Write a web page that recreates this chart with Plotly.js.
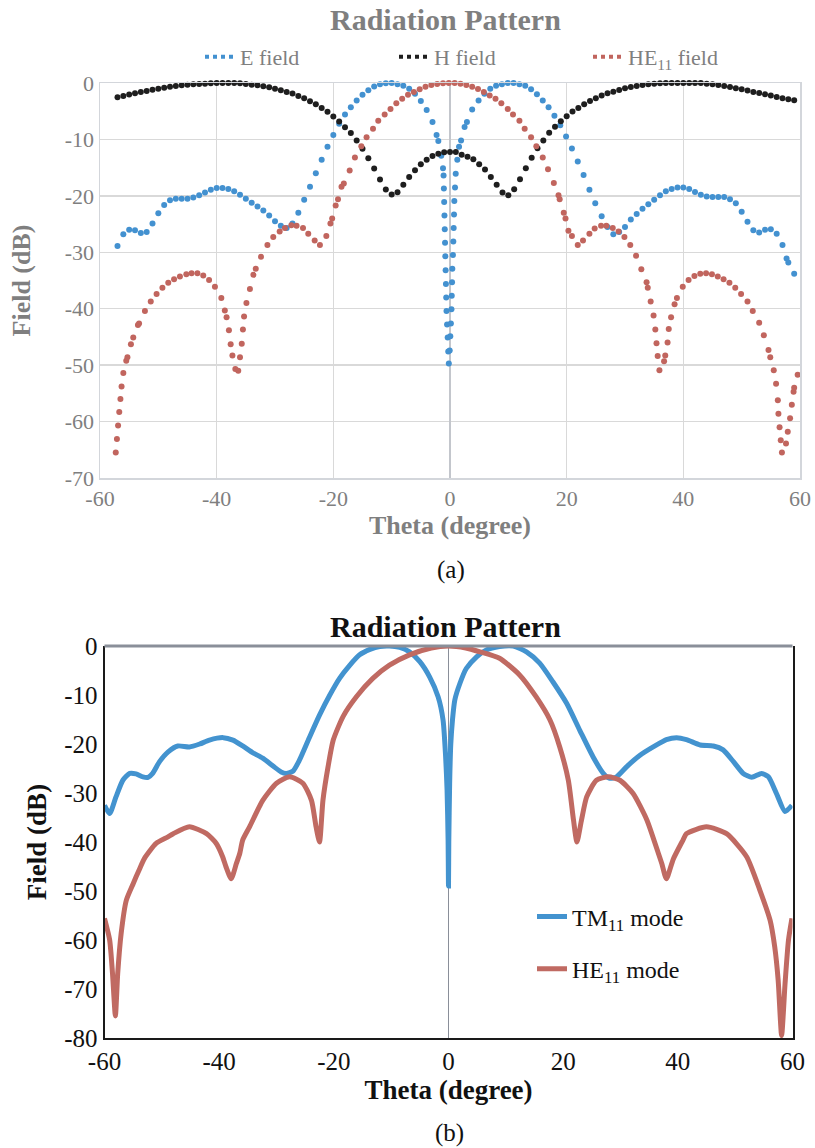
<!DOCTYPE html>
<html>
<head>
<meta charset="utf-8">
<script src="https://cdn.plot.ly/plotly-3.0.1.min.js"></script>
<style>html,body{margin:0;padding:0;background:#fff;}#chart{width:815px;height:1148px;}</style>
</head>
<body>
<div id="chart"></div>
<script>
// ---------- (a) top chart: sampled field patterns ----------
const eFieldTheta = [-57,-56,-55,-54,-53,-52,-51,-50,-49,-48,-47,-46,-45,-44,-43,-42,-41,-40,-39,-38,-37,-36,-35,-34,-33,-32,-31,-30,-29,-28,-27,-26,-25,-24,-23,-22,-21,-20,-19,-18,-17,-16,-15,-14,-13,-12,-11,-10,-9,-8,-7,-6,-5,-4,-3,
  -2.3,-2.0,-1.5,-1.2,-1.1,-1.05,-1.0,-0.95,-0.9,-0.85,-0.8,-0.75,-0.7,-0.65,-0.6,-0.5,-0.4,-0.3,-0.2,
  -0.05,0.05,0.15,0.25,0.3,0.35,0.4,0.5,0.57,0.63,0.69,0.74,0.86,0.98,1.25,1.55,1.9,2.5,2.9,3.8,4.9,5.9,6.9,7.9,8.9,9.9,10.9,11.9,12.9,13.9,14.9,15.9,16.9,17.9,18.9,19.9,20.9,21.9,22.9,23.9,24.9,
  26,27,28,29,30,31,32,33,34,35,36,37,38,39,40,41,42,43,44,45,46,47,48,49,50,51,52,53,54,55,56,57,57.7,58,59];
const eFieldDb = [-28.9,-26.8,-26.0,-26.1,-26.6,-26.4,-24.9,-23.1,-21.6,-20.8,-20.5,-20.5,-20.5,-20.3,-19.9,-19.4,-18.9,-18.6,-18.6,-18.8,-19.2,-19.8,-20.5,-21.2,-21.9,-22.6,-23.5,-24.5,-25.3,-25.7,-24.9,-23.0,-20.7,-18.4,-16.0,-13.6,-11.3,-9.2,-7.2,-5.6,-4.3,-3.1,-2.1,-1.3,-0.6,-0.2,-0.05,0,-0.2,-0.5,-1.0,-1.9,-3.2,-4.8,-6.9,
  -9.2,-10.3,-12.9,-15.1,-16.4,-18.7,-21.1,-23.5,-25.9,-28.3,-30.7,-33.2,-35.6,-38.0,-40.4,-42.8,-45.1,-47.6,-49.7,
  -47.4,-44.9,-42.6,-40.1,-37.7,-35.3,-32.9,-30.5,-28.1,-25.7,-23.3,-20.9,-18.5,-16.1,-13.6,-11.3,-10.2,-7.8,-6.9,-4.7,-3.1,-1.9,-1.0,-0.5,-0.2,0,0,-0.2,-0.5,-1.1,-2.0,-3.1,-4.3,-5.8,-7.5,-9.5,-11.6,-13.9,-16.3,-18.9,-21.3,
  -23.6,-25.5,-26.8,-26.4,-25.5,-24.2,-23.2,-22.3,-21.5,-20.7,-19.9,-19.2,-18.8,-18.5,-18.5,-18.8,-19.3,-19.8,-20.1,-20.2,-20.2,-20.2,-20.6,-21.3,-22.8,-24.6,-26.1,-26.5,-26.0,-25.9,-26.7,-28.7,-31.1,-31.8,-33.8];

const hFieldTheta = [-57,-56,-55,-54,-53,-52,-51,-50,-49,-48,-47,-46,-45,-44,-43,-42,-41,-40,-39,-38,-37,-36,-35,-34,-33,-32,-31,-30,-29,-28,-27,-26,-25,-24,-23,-22,-21,-20,-19,-18,-17,-16,-15,-14,-13,-12,-11,-10,-9,-8,-7,-6,-5,-4,-3,-2,-1,0,
  1,2,3,4,5,6,7,8,9,10,11,12,13,14,15,16,17,18,19,20,21,22,23,24,25,26,27,28,29,30,31,32,33,34,35,36,37,38,39,40,41,42,43,44,45,46,47,48,49,50,51,52,53,54,55,56,57,58,59];
const hFieldDb = [-2.53,-2.29,-2.06,-1.82,-1.59,-1.41,-1.18,-1.0,-0.82,-0.65,-0.53,-0.41,-0.29,-0.24,-0.18,-0.12,-0.06,-0.02,0,0,-0.02,-0.06,-0.18,-0.29,-0.41,-0.59,-0.76,-1.0,-1.29,-1.59,-1.88,-2.29,-2.7,-3.23,-3.76,-4.41,-5.11,-5.94,-6.82,-7.82,-8.88,-10.17,-11.64,-13.35,-15.17,-17.11,-18.88,-19.76,-19.35,-18.05,-16.64,-15.46,-14.4,-13.58,-12.93,-12.52,-12.29,-12.23,
  -12.23,-12.7,-13.05,-13.53,-14.4,-15.35,-16.64,-18.05,-19.4,-19.88,-18.82,-17.05,-15.11,-13.23,-11.58,-10.17,-8.82,-7.76,-6.76,-5.88,-5.06,-4.41,-3.76,-3.17,-2.7,-2.23,-1.82,-1.53,-1.23,-0.94,-0.7,-0.53,-0.35,-0.24,-0.12,-0.06,0,0,0,0,0,0,0,-0.12,-0.24,-0.35,-0.53,-0.7,-0.94,-1.12,-1.35,-1.59,-1.76,-2.0,-2.23,-2.47,-2.7,-2.88,-3.06];

const he11FieldTheta = [-57.3,-57.1,-56.9,-56.7,-56.5,-56.3,-56.0,-55.5,-55.3,-54.7,-54.3,-53.5,-53.3,-52.3,-51.3,-50.3,-49.3,-48.3,-47.3,-46.3,-45.2,-44.3,-43.3,-42.3,-41.3,-40.3,-39.2,-38.6,-38.3,-37.9,-37.6,-37.3,-36.8,-36.3,-36.0,-35.7,-35.5,-35.3,-34.9,-34.3,-33.7,-33.3,-32.4,-31.3,-30.3,-29.2,-28.3,-27.2,-26.3,-25.2,-24.3,-23.2,-22.3,-21.2,-20.5,-20.2,-19.6,-19.2,-18.6,-18.2,-17.2,-16.3,-15.2,-14.3,-13.2,-12.3,-11.2,-10.2,-9.2,-8.2,-7.2,-6.2,-5.2,-4.2,-3.2,-2.2,-1.2,-0.2,
  0.8,1.8,2.8,3.8,4.8,5.8,6.8,7.8,8.8,9.9,10.8,11.9,12.8,13.9,14.8,15.9,16.8,17.8,18.6,18.8,19.5,19.8,20.3,20.9,21.9,22.8,23.9,24.8,25.9,26.8,27.9,28.9,29.9,30.9,31.9,32.8,33.7,33.9,34.4,34.9,35.2,35.4,35.6,35.9,36.7,36.9,37.3,37.5,37.9,38.5,38.9,39.9,40.9,41.9,42.9,43.9,44.9,45.9,46.9,47.9,48.9,49.9,51.0,51.9,53.0,53.8,54.6,54.9,55.5,55.9,56.2,56.3,56.5,56.7,56.9,57.6,57.9,58.3,58.6,58.9,59.0,59.6];
const he11FieldDb = [-65.5,-63.1,-60.7,-58.3,-56.0,-53.8,-51.4,-49.2,-48.6,-46.3,-45.1,-42.9,-42.6,-40.4,-38.7,-37.4,-36.3,-35.4,-34.8,-34.3,-33.9,-33.7,-33.7,-34.1,-34.9,-36.1,-38.1,-40.3,-41.5,-43.8,-46.3,-48.3,-50.7,-51.0,-48.6,-46.2,-43.7,-41.4,-39.0,-36.5,-34.0,-32.9,-30.8,-28.7,-27.3,-26.3,-25.7,-25.2,-25.3,-25.7,-26.7,-27.9,-28.7,-27.1,-24.9,-24.0,-21.7,-20.6,-18.4,-17.8,-15.5,-13.2,-11.2,-9.6,-8.1,-6.7,-5.6,-4.6,-3.6,-2.8,-2.1,-1.6,-1.1,-0.65,-0.35,-0.18,-0.06,0,
  -0.02,-0.12,-0.35,-0.65,-1.06,-1.6,-2.2,-2.8,-3.6,-4.6,-5.6,-6.7,-8.1,-9.6,-11.2,-13.2,-15.3,-17.7,-19.9,-20.6,-23.0,-24.0,-26.2,-27.1,-28.7,-27.9,-26.7,-25.8,-25.3,-25.3,-25.7,-26.3,-27.3,-28.7,-30.6,-33.0,-35.3,-36.3,-38.7,-41.2,-43.7,-46.1,-48.4,-50.9,-49.3,-48.3,-46.0,-43.6,-41.5,-39.2,-38.1,-36.1,-34.9,-34.2,-33.8,-33.7,-33.9,-34.3,-34.8,-35.4,-36.3,-37.4,-38.7,-40.4,-42.5,-44.7,-47.3,-48.6,-50.9,-53.3,-56.2,-58.6,-61.0,-63.3,-65.5,-63.9,-61.8,-59.4,-57.0,-54.7,-54.0,-51.7];

// ---------- (b) bottom chart: mode patterns ----------
const tm11Theta = [-60,-59.1,-58.0,-56.8,-55.6,-54.5,-53.3,-52.4,-51.6,-50.4,-48.9,-47.2,-45.2,-43.4,-41.7,-39.3,-37.6,-35.9,-34.1,-32.4,-30.6,-29.2,-28.3,-27.1,-26.0,-24.2,-22.5,-20.7,-19.0,-17.2,-15.5,-13.7,-12.0,-10.3,-8.5,-6.8,-5.0,-3.3,-1.8,-0.95,-0.5,-0.25,-0.07,0,
  0.05,0.2,0.4,0.7,1.1,2.0,3.1,4.9,6.6,8.9,11.3,13.6,15.9,18.2,20.6,22.9,25.2,27.0,28.1,29.3,31.1,33.4,35.7,38.0,39.8,41.5,43.9,46.2,47.9,49.7,51.4,52.9,54.6,55.8,57.2,58.7,59.9];
const tm11Db = [-32.5,-34.2,-30.8,-27.4,-26.0,-26.1,-26.7,-26.8,-26.0,-23.6,-21.6,-20.4,-20.6,-20.0,-19.2,-18.7,-19.2,-20.4,-21.8,-22.9,-24.5,-25.7,-26.0,-25.5,-23.3,-18.5,-14.1,-10.0,-6.6,-3.9,-1.8,-0.7,-0.1,0,-0.3,-1.2,-3.2,-6.3,-10.4,-15.1,-22.6,-29.4,-39.6,-49.0,
  -40.0,-28.0,-20.0,-15.0,-11.0,-7.6,-4.6,-2.2,-0.8,-0.1,0,-1.2,-3.5,-7.3,-11.7,-17.2,-22.6,-26.0,-27.0,-26.7,-24.6,-22.3,-20.6,-19.1,-18.7,-19.1,-20.2,-20.4,-21.2,-23.6,-26.0,-26.8,-26.0,-26.7,-30.1,-33.8,-32.5];

const he11ModeTheta = [-60,-59.1,-58.6,-58.1,-57.7,-57.1,-56.2,-55,-54,-53,-51,-49,-48,-45.2,-42.2,-40.5,-39.4,-38.8,-37.9,-37.0,-36.4,-35.9,-34.7,-32.4,-30.0,-27.7,-25.4,-23.9,-23.1,-22.5,-21.9,-21.0,-20.1,-18.4,-16.1,-13.2,-10.3,-6.8,-3,0,
  3,5.5,8.9,12.4,15.3,17.7,19.4,20.9,21.8,22.4,23.2,24.1,25.8,27.9,29.9,32.2,34.6,36.6,37.2,38.0,39.2,40.9,41.5,45.0,48.5,52.0,54.3,56.1,56.9,57.5,58.1,58.7,59.3,59.9];
const he11ModeDb = [-55.6,-60.0,-66.9,-75.5,-66.9,-58.7,-51.9,-48.5,-45.8,-43.3,-40.3,-39.0,-38.3,-36.9,-38.3,-40.3,-43.0,-45.1,-47.5,-44.4,-42.3,-39.6,-36.9,-31.5,-28.0,-26.7,-28.0,-31.5,-36.9,-40.0,-31.5,-24.6,-19.2,-14.4,-10.4,-6.6,-3.9,-1.8,-0.4,0,
  -0.4,-1.2,-2.5,-5.9,-10.4,-15.1,-20.6,-27.4,-35.5,-40.0,-35.5,-30.8,-27.4,-26.7,-27.4,-30.1,-35.5,-42.3,-44.4,-47.5,-43.5,-39.6,-38.3,-36.9,-38.3,-43.0,-49.8,-56.0,-61.4,-68.2,-79.5,-68.9,-60.0,-55.6];

// ---------- tick labels ----------
const xTickVals = [-60,-40,-20,0,20,40,60];
const xTickText = ['-60','-40','-20','0','20','40','60'];
const yTopVals = [0,-10,-20,-30,-40,-50,-60,-70];
const yTopText = ['0','-10','-20','-30','-40','-50','-60','-70'];
const yBotVals = [0,-10,-20,-30,-40,-50,-60,-70,-80];
const yBotText = ['0','-10','-20','-30','-40','-50','-60','-70','-80'];

const W = 815, H = 1148;
const gray = '#7f7f7f';
const ink = '#111111';
const serif = 'Liberation Serif';
const px = v => v / W;
const py = v => 1 - v / H;

const cE = '#4391d0', cH = '#1e1e1e', cHE = '#c1655e';
const cTM = '#4393cf', cHEm = '#c06a62';

const traces = [
  {x: eFieldTheta, y: eFieldDb, mode: 'markers', marker: {color: cE, size: 6}, xaxis: 'x', yaxis: 'y', showlegend: false, cliponaxis: false},
  {x: hFieldTheta, y: hFieldDb, mode: 'markers', marker: {color: cH, size: 6}, xaxis: 'x', yaxis: 'y', showlegend: false, cliponaxis: false},
  {x: he11FieldTheta, y: he11FieldDb, mode: 'markers', marker: {color: cHE, size: 6}, xaxis: 'x', yaxis: 'y', showlegend: false, cliponaxis: false},
  // legend entries for (a)
  {x: [null], y: [null], mode: 'lines', name: 'E field', line: {color: cE, width: 4, dash: 'dot'}, xaxis: 'x', yaxis: 'y', legend: 'legend'},
  {x: [null], y: [null], mode: 'lines', name: 'H field', line: {color: cH, width: 4, dash: 'dot'}, xaxis: 'x', yaxis: 'y', legend: 'legend'},
  {x: [null], y: [null], mode: 'lines', name: 'HE<sub>11</sub> field', line: {color: cHE, width: 4, dash: 'dot'}, xaxis: 'x', yaxis: 'y', legend: 'legend'},
  // (b)
  {x: tm11Theta, y: tm11Db, mode: 'lines', name: 'TM<sub>11</sub> mode', line: {color: cTM, width: 5, shape: 'spline', smoothing: 0.6}, xaxis: 'x2', yaxis: 'y2', legend: 'legend2', legendgroup: 'tm'},
  {x: he11ModeTheta, y: he11ModeDb, mode: 'lines', name: 'HE<sub>11</sub> mode', line: {color: cHEm, width: 5, shape: 'spline', smoothing: 0.6}, xaxis: 'x2', yaxis: 'y2', legend: 'legend2', legendgroup: 'he'}
];

const layout = {
  width: W, height: H,
  margin: {l: 0, r: 0, t: 0, b: 0},
  paper_bgcolor: '#fff', plot_bgcolor: '#fff',
  font: {family: serif, color: gray},
  xaxis: {
    domain: [px(100), px(800)], anchor: 'y', range: [-60, 60], tickvals: xTickVals, ticktext: xTickText,
    showgrid: true, gridcolor: '#d9d9d9', gridwidth: 1.5,
    zeroline: true, zerolinecolor: '#c3c6cc', zerolinewidth: 1.5,
    showline: true, linecolor: '#d3d6db', linewidth: 1.5, mirror: true,
    ticks: '', tickfont: {family: serif, size: 22, color: gray},
    title: {text: '<b>Theta (degree)</b>', font: {family: serif, size: 26, color: gray}, standoff: 6}
  },
  yaxis: {
    domain: [py(478), py(83)], anchor: 'x', range: [-70, 0], tickvals: yTopVals, ticktext: yTopText,
    showgrid: true, gridcolor: '#d9d9d9', gridwidth: 1.5,
    zeroline: false,
    showline: true, linecolor: '#d3d6db', linewidth: 1.5, mirror: true,
    ticks: '', tickfont: {family: serif, size: 22, color: gray},
    title: {text: '<b>Field (dB)</b>', font: {family: serif, size: 26, color: gray}, standoff: 26}
  },
  xaxis2: {
    domain: [px(104.5), px(792.5)], anchor: 'y2', range: [-60, 60], tickvals: xTickVals, ticktext: xTickText,
    showgrid: false,
    zeroline: true, zerolinecolor: '#8a8f99', zerolinewidth: 1.5,
    showline: true, linecolor: '#1a1a1a', linewidth: 2,
    ticks: '', tickfont: {family: serif, size: 25, color: ink},
    title: {text: '<b>Theta (degree)</b>', font: {family: serif, size: 27, color: ink}, standoff: 6}
  },
  yaxis2: {
    domain: [py(1038), py(646)], anchor: 'x2', range: [-80, 0], tickvals: yBotVals, ticktext: yBotText,
    showgrid: false, zeroline: false,
    showline: true, linecolor: '#1a1a1a', linewidth: 2, mirror: true,
    ticks: '', tickfont: {family: serif, size: 25, color: ink},
    title: {text: '<b>Field (dB)</b>', font: {family: serif, size: 27, color: ink}, standoff: 10}
  },
  shapes: [
    {type: 'line', xref: 'x2 domain', yref: 'y2 domain', x0: 0, x1: 1, y0: 1, y1: 1, line: {color: '#8a8f99', width: 3}}
  ],
  legend: {
    orientation: 'h', traceorder: 'normal', x: px(200), xanchor: 'left', y: py(57), yanchor: 'middle',
    entrywidth: 149, entrywidthmode: 'pixels',
    font: {family: serif, size: 22, color: gray}, bgcolor: 'rgba(0,0,0,0)'
  },
  legend2: {
    orientation: 'v', traceorder: 'grouped', x: px(532), xanchor: 'left', y: py(943), yanchor: 'middle',
    tracegroupgap: 18,
    font: {family: serif, size: 24, color: ink}, bgcolor: 'rgba(0,0,0,0)'
  },
  annotations: [
    {text: '<b>Radiation Pattern</b>', xref: 'paper', yref: 'paper', x: px(446), y: py(20), xanchor: 'center', yanchor: 'middle', showarrow: false, font: {family: serif, size: 30, color: gray}},
    {text: '<b>Radiation Pattern</b>', xref: 'paper', yref: 'paper', x: px(446), y: py(626), xanchor: 'center', yanchor: 'middle', showarrow: false, font: {family: serif, size: 30, color: ink}},
    {text: '(a)', xref: 'paper', yref: 'paper', x: px(451), y: py(570), xanchor: 'center', yanchor: 'middle', showarrow: false, font: {family: serif, size: 25, color: ink}},
    {text: '(b)', xref: 'paper', yref: 'paper', x: px(449), y: py(1133), xanchor: 'center', yanchor: 'middle', showarrow: false, font: {family: serif, size: 25, color: ink}}
  ]
};

Plotly.newPlot('chart', traces, layout, {displayModeBar: false, staticPlot: true});
</script>
</body>
</html>
